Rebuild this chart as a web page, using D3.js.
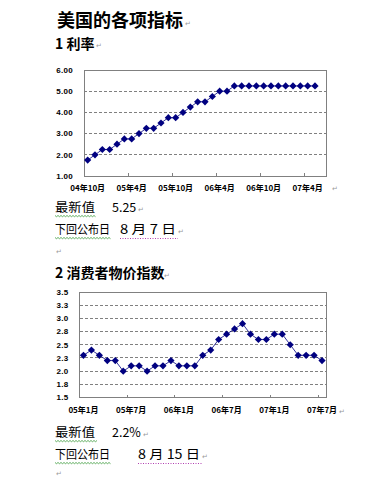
<!DOCTYPE html>
<html><head><meta charset="utf-8">
<script src="https://cdn.jsdelivr.net/npm/d3@7"></script>
<style>
html,body{margin:0;padding:0;background:#fff;}
svg{display:block;}
</style></head>
<body>
<svg id="c" width="391" height="478"></svg>
<script>
// ---------- data ----------
const rateMonths = ["04年10月","04年11月","04年12月","05年1月","05年2月","05年3月","05年4月","05年5月","05年6月","05年7月","05年8月","05年9月",
  "05年10月","05年11月","05年12月","06年1月","06年2月","06年3月","06年4月","06年5月","06年6月","06年7月","06年8月","06年9月",
  "06年10月","06年11月","06年12月","07年1月","07年2月","07年3月","07年4月","07年5月","07年6月"];
const rateValues = [1.75,2.0,2.25,2.25,2.5,2.75,2.75,3.0,3.25,3.25,3.5,3.75,3.75,4.0,4.25,4.5,4.5,4.75,5.0,5.0,
  5.25,5.25,5.25,5.25,5.25,5.25,5.25,5.25,5.25,5.25,5.25,5.25];
const rateTickLabels = ["04年10月","05年4月","05年10月","06年4月","06年10月","07年4月"];
const rateYTicks = [1,2,3,4,5,6];
const rateYLabels = ["1.00","2.00","3.00","4.00","5.00","6.00"];

const cpiMonths = ["05年1月","05年2月","05年3月","05年4月","05年5月","05年6月","05年7月","05年8月","05年9月","05年10月","05年11月","05年12月",
  "06年1月","06年2月","06年3月","06年4月","06年5月","06年6月","06年7月","06年8月","06年9月","06年10月","06年11月","06年12月",
  "07年1月","07年2月","07年3月","07年4月","07年5月","07年6月","07年7月"];
const cpiValues = [2.3,2.4,2.3,2.2,2.2,2.0,2.1,2.1,2.0,2.1,2.1,2.2,2.1,2.1,2.1,2.3,2.4,2.6,2.7,2.8,2.9,2.7,2.6,2.6,
  2.7,2.7,2.5,2.3,2.3,2.3,2.2];
const cpiTickLabels = ["05年1月","05年7月","06年1月","06年7月","07年1月","07年7月"];
const cpiYTicks = [1.5,1.75,2.0,2.25,2.5,2.75,3.0,3.25,3.5];
const cpiYLabels = ["1.5","1.8","2.0","2.3","2.5","2.8","3.0","3.3","3.5"];

// ---------- drawing ----------
const svg = d3.select("#c");
const CJK = "'Noto Sans CJK SC','Noto Sans',sans-serif";
const NAVY = "#000080";
const GRAY = "#808080";

function para(x, y, str, size, weight, len){
  const t = svg.append("text").attr("x", x).attr("y", y)
    .attr("font-family", CJK).attr("font-size", size).attr("font-weight", weight || 400)
    .attr("fill", "#000").text(str);
  if (len) t.attr("textLength", len).attr("lengthAdjust", "spacingAndGlyphs");
  return t;
}
function ret(x, y){
  svg.append("text").attr("x", x).attr("y", y).attr("font-family", "DejaVu Sans")
    .attr("font-size", 7).attr("fill", "#9a9a9a").text("↵");
}
function wavy(x0, x1, y, color){
  let d = `M${x0},${y}`;
  for (let x = x0, k = 0; x < x1; x += 1.5, k++) d += `L${x + 1.5},${y + (k % 2 ? 0 : 1.2)}`;
  svg.append("path").attr("d", d).attr("fill", "none").attr("stroke", color).attr("stroke-width", 0.8);
}
function dotted(x0, x1, y, color){
  svg.append("line").attr("x1", x0).attr("x2", x1).attr("y1", y).attr("y2", y)
    .attr("stroke", color).attr("stroke-width", 1).attr("stroke-dasharray", "1,1.5");
}

function chart(cfg){
  const g = svg.append("g");
  const x = d3.scaleBand().domain(cfg.months).range([cfg.left, cfg.right]).padding(0);
  const y = d3.scaleLinear().domain(cfg.yDomain).range([cfg.bottom, cfg.top]);
  const bw = x.bandwidth();
  const cx = (m) => x(m) + bw / 2;

  g.selectAll("line.grid").data(cfg.yTicks.slice(1, -1)).join("line")
    .attr("x1", cfg.left).attr("x2", cfg.right)
    .attr("y1", d => y(d)).attr("y2", d => y(d))
    .attr("stroke", GRAY).attr("stroke-width", 1).attr("stroke-dasharray", "3,2")
    .attr("shape-rendering", "crispEdges");
  g.append("rect").attr("x", cfg.left).attr("y", cfg.top)
    .attr("width", cfg.right - cfg.left).attr("height", cfg.bottom - cfg.top)
    .attr("fill", "none").attr("stroke", GRAY).attr("stroke-width", 1).attr("shape-rendering", "crispEdges");
  g.selectAll("text.yl").data(cfg.yTicks).join("text")
    .attr("x", cfg.left - 11).attr("y", d => y(d)).attr("dy", "0.35em")
    .attr("text-anchor", "end").attr("font-family", "'Liberation Sans',Arial,sans-serif")
    .attr("font-size", 8).attr("font-weight", 700).attr("letter-spacing", 0.3)
    .text((d, i) => cfg.yLabels[i]);
  const tickIdx = d3.range(6, cfg.months.length, 6);
  g.selectAll("line.xt").data(tickIdx).join("line")
    .attr("x1", i => x(cfg.months[i])).attr("x2", i => x(cfg.months[i]))
    .attr("y1", cfg.bottom).attr("y2", cfg.bottom - 3)
    .attr("stroke", GRAY).attr("stroke-width", 1).attr("shape-rendering", "crispEdges");
  g.selectAll("text.xl").data(cfg.tickLabels).join("text")
    .attr("x", d => cx(d)).attr("y", cfg.bottom + 15)
    .attr("text-anchor", "middle").attr("font-family", CJK)
    .attr("font-size", 8).attr("font-weight", 700).text(d => d);
  const pts = cfg.values.map((v, i) => [cx(cfg.months[i]), y(v)]);
  g.append("path").attr("d", d3.line()(pts)).attr("fill", "none")
    .attr("stroke", NAVY).attr("stroke-width", 0.8);
  g.selectAll("path.mk").data(pts).join("path")
    .attr("d", "M0,-3.6L3.6,0L0,3.6L-3.6,0Z")
    .attr("transform", d => `translate(${d[0]},${d[1]})`)
    .attr("fill", NAVY);
}

// ----- section 1 -----
para(57, 26.5, "美国的各项指标", 18, 700); ret(185, 26);
para(55, 49, "1 利率", 14, 700); ret(96, 48);

chart({months: rateMonths, values: rateValues, tickLabels: rateTickLabels,
  yTicks: rateYTicks, yLabels: rateYLabels, yDomain: [1, 6],
  left: 84, right: 326, top: 70, bottom: 176});
ret(332, 191);

para(55, 212, "最新值", 12.5, 400, 40); para(112, 212, "5.25", 12.5); ret(138, 212);
wavy(55, 95, 215.5, "#3a9a3a");
para(55, 234, "下回公布日", 12.5, 400, 55); para(120, 234, "8 月 7 日", 12.5, 400, 56); ret(178, 234);
wavy(55, 110, 237.5, "#3a9a3a");
dotted(120, 178, 238.5, "#b040b0");
ret(56, 254);

// ----- section 2 -----
para(55, 278, "2 消费者物价指数", 14, 700); ret(164, 278);

chart({months: cpiMonths, values: cpiValues, tickLabels: cpiTickLabels,
  yTicks: cpiYTicks, yLabels: cpiYLabels, yDomain: [1.5, 3.5],
  left: 79.5, right: 326, top: 292, bottom: 397.5});
ret(339, 414);

para(55, 437, "最新值", 12.5, 400, 40); para(112, 437, "2.2%", 12.5); ret(143, 437);
wavy(55, 97, 440.5, "#3a9a3a");
para(55, 459, "下回公布日", 12.5, 400, 55); para(138, 459, "8 月 15 日", 12.5, 400, 62); ret(202, 459);
wavy(55, 110, 462.5, "#3a9a3a");
dotted(138, 202, 463.5, "#b040b0");
ret(56, 476);
</script>
</body></html>
